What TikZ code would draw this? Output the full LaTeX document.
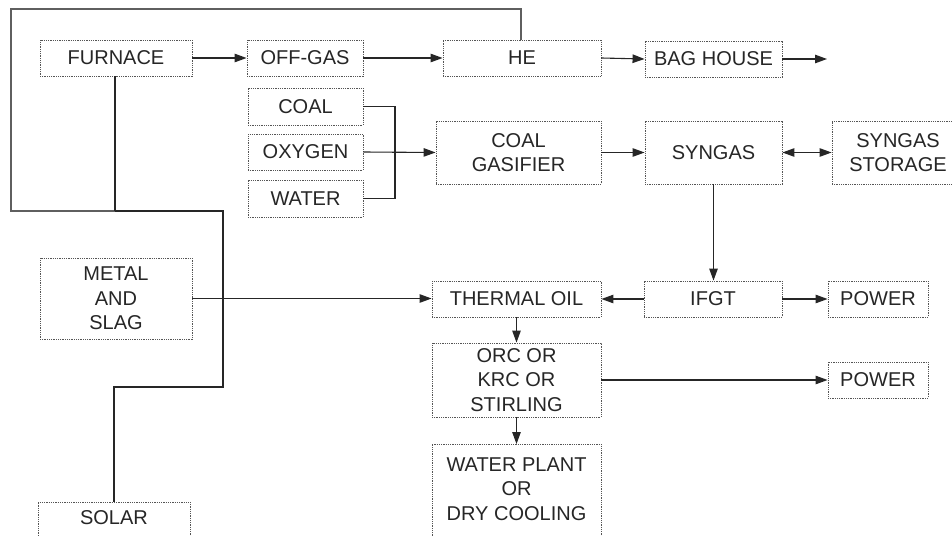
\documentclass[tikz,border=0pt]{standalone}
\usepackage{fontspec}
\setmainfont{Liberation Sans}
\usetikzlibrary{arrows.meta,calc}
\definecolor{txtc}{HTML}{262626}
\definecolor{linec}{HTML}{262626}
\definecolor{loopc}{HTML}{5F5F5F}
\definecolor{boxc}{HTML}{555555}
\begin{document}
\begin{tikzpicture}[x=1pt,y=-1pt,
  stepbox/.style={draw=boxc, line width=0.9pt, dash pattern=on 1pt off 0.8pt,
    text=txtc, font=\fontsize{20}{24.5}\selectfont, align=center,
    inner xsep=4pt, inner ysep=2pt},
  flow/.style={draw=linec, line width=1.1pt, -{Triangle[length=12pt,width=8.5pt]}},
  both/.style={draw=linec, line width=1.1pt, {Triangle[length=12pt,width=8.5pt]}-{Triangle[length=12pt,width=8.5pt]}},
  plain/.style={draw=linec, line width=1.1pt},
  heat/.style={draw=loopc, line width=1.5pt}]
\useasboundingbox (0,0) rectangle (952,535);
\clip (0,0) rectangle (952,535);
\fill[white] (0,0) rectangle (952,535);

% row 1
\node[stepbox, minimum width=152pt, minimum height=36pt] (furnace) at (116,58) {FURNACE};
\node[stepbox, minimum width=116pt, minimum height=36pt] (offgas) at (305,58) {OFF-GAS};
\node[stepbox, minimum width=158pt, minimum height=36pt] (he) at (522,58) {HE};
\node[stepbox, minimum width=137pt, minimum height=36pt] (bag) at (713.5,59) {BAG HOUSE};
\coordinate (bagout) at (827,59);

% inputs
\node[stepbox, minimum width=115pt, minimum height=37pt] (coal) at (305.5,106.5) {COAL};
\node[stepbox, minimum width=115pt, minimum height=36pt] (oxygen) at (305.5,152) {OXYGEN};
\node[stepbox, minimum width=115pt, minimum height=37pt] (water) at (305.5,198.5) {WATER};

% gasifier row
\node[stepbox, minimum width=165pt, minimum height=63pt] (gasifier) at (518.5,152.5) {COAL\\GASIFIER};
\node[stepbox, minimum width=137pt, minimum height=63pt] (syngas) at (713.5,152.5) {SYNGAS};
\node[stepbox, minimum width=132pt, minimum height=63pt] (storage) at (898,152.5) {SYNGAS\\STORAGE};

% middle
\node[stepbox, minimum width=152pt, minimum height=81pt] (metal) at (116,298.5) {METAL\\AND\\SLAG};
\node[stepbox, minimum width=169pt, minimum height=36pt] (thermal) at (516.5,299) {THERMAL OIL};
\node[stepbox, minimum width=138pt, minimum height=36pt] (ifgt) at (713,299) {IFGT};
\node[stepbox, minimum width=100pt, minimum height=36pt] (power1) at (878,299) {POWER};
\node[stepbox, minimum width=169pt, minimum height=74pt] (orc) at (516.5,380) {ORC OR\\KRC OR\\STIRLING};
\node[stepbox, minimum width=100pt, minimum height=36pt] (power2) at (878,380) {POWER};

% bottom (cut off by the frame)
\node[stepbox, anchor=north, minimum width=169pt, inner ysep=13pt, text depth=60pt] (wplant) at (516.5,444) {WATER PLANT\\OR\\DRY COOLING};
\node[stepbox, anchor=north, minimum width=152pt, inner ysep=8pt, text depth=40pt] (solar) at (114,502) {SOLAR};

% connectors
\draw[flow] (furnace.east) -- (offgas.west);
\draw[flow] (offgas.east) -- (he.west);
\draw[flow] (he.east) -- (bag.west);
\draw[flow] (bag.east) -- (bagout);

\coordinate (mix) at (395,106.5);
\draw[plain] (coal.east) -- (mix) |- (water.east);
\draw[flow] (oxygen.east) -- (gasifier.west);
\draw[flow] (gasifier.east) -- (syngas.west);
\draw[both] (syngas.east) -- (storage.west);
\draw[flow] (syngas.south) -- (syngas.south |- ifgt.north);
\draw[flow] (ifgt.west) -- (thermal.east);
\draw[flow] (ifgt.east) -- (power1.west);
\draw[flow] (metal.east) -- (metal.east -| thermal.west);
\draw[flow] (thermal.south) -- (orc.north);
\draw[flow] (orc.east) -- (power2.west);
\draw[flow] (orc.south) -- (wplant.north);

% heat loop
\coordinate (topr) at (521,9);
\coordinate (topl) at (11,9);
\coordinate (botl) at (11,211);
\coordinate (jn) at (115,211);
\coordinate (botr) at (223,211);
\coordinate (low) at (223,387);
\draw[heat] (he.north -| topr) -- (topr) -- (topl) -- (botl) -- (jn);
\draw[plain] (jn) -- (botr) -- (low) -| (solar.north);
\draw[plain] (furnace.south -| jn) -- (jn);
\end{tikzpicture}
\end{document}
